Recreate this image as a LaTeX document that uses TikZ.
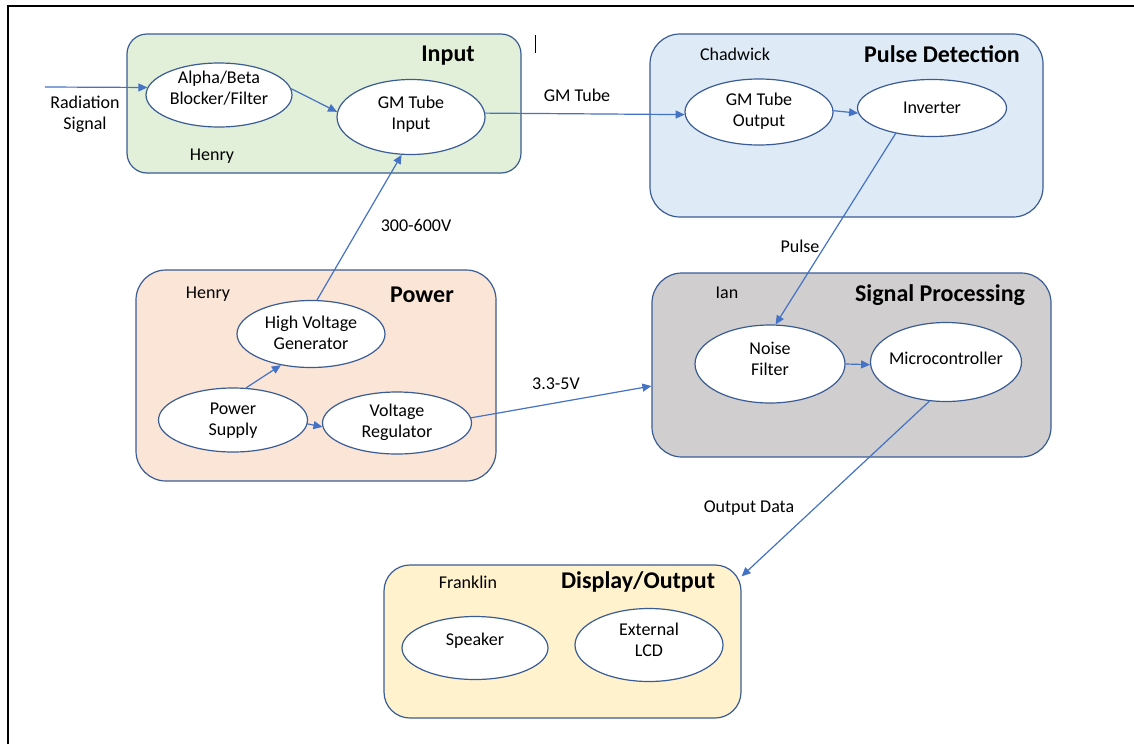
\documentclass[tikz,border=0pt]{standalone}
\usepackage{fontspec}
\setmainfont{Carlito}
\usetikzlibrary{shapes.geometric,arrows.meta}
\definecolor{edge}{HTML}{3A5C95}
\definecolor{arr}{HTML}{4472C4}
\definecolor{cgreen}{HTML}{E2F0D9}
\definecolor{cblue}{HTML}{DEEBF7}
\definecolor{cpeach}{HTML}{FBE5D6}
\definecolor{cgray}{HTML}{D0CECE}
\definecolor{cyellow}{HTML}{FFF2CC}
\newcommand\intext[2]{\raisebox{#1}{\smash{\makebox[0pt]{\begin{tabular}{@{}c@{}}#2\end{tabular}}}}}
\tikzset{
  panel/.style={draw=edge, line width=1.2pt, rectangle, inner sep=0pt},
  blob/.style={draw=edge, line width=1.2pt, ellipse, fill=white, inner sep=0pt, align=center,
    font=\fontsize{18}{21}\selectfont},
  title/.style={font=\fontsize{24}{28}\selectfont\bfseries, inner sep=0pt},
  lbl/.style={font=\fontsize{18}{21}\selectfont, inner sep=0pt, align=center},
  flow/.style={draw=arr, line width=1.2pt, -{Triangle[length=9pt,width=8pt]}},
}
\begin{document}
\begin{tikzpicture}[x=1pt,y=-1pt]
\useasboundingbox (0,0) rectangle (1134,744);
% frame
\coordinate (fa) at (8,744);
\coordinate (fb) at (8,6);
\coordinate (fc) at (1134,6);
\draw[line width=1.6pt] (fa) -- (fb) -- (fc);
\coordinate (ca) at (535,35);
\coordinate (cb) at (535,53);
\draw[line width=0.9pt] (ca) -- (cb);

% panels
\node[panel, fill=cgreen, rounded corners=20pt, minimum width=394pt, minimum height=139pt] (inbox) at (324,103.5) {};
\node[panel, fill=cblue, rounded corners=30pt, minimum width=393pt, minimum height=183pt] (pdbox) at (846.5,125.5) {};
\node[panel, fill=cpeach, rounded corners=30pt, minimum width=360pt, minimum height=211pt] (pwbox) at (316,375.5) {};
\node[panel, fill=cgray, rounded corners=30pt, minimum width=399pt, minimum height=184pt] (spbox) at (851.5,365) {};
\node[panel, fill=cyellow, rounded corners=26pt, minimum width=357pt, minimum height=153pt] (dobox) at (562.5,641.5) {};

% titles and names
\node[title] (tin) at (448,56) {Input};
\node[lbl] (hin) at (212,156) {Henry};
\node[title] (tpd) at (942,54) {Pulse Detection};
\node[lbl] (chad) at (735,54) {Chadwick};
\node[title] (tpw) at (422,295) {Power};
\node[lbl] (hpw) at (208,294) {Henry};
\node[title] (tsp) at (940,295) {Signal Processing};
\node[lbl] (ian) at (727,293) {Ian};
\node[title] (tdo) at (638,582) {Display/Output};
\node[lbl] (frank) at (468,582) {Franklin};

% ellipses
\node[blob, minimum width=146pt, minimum height=64pt] (alpha) at (219,95) {\intext{1.7pt}{Alpha/Beta\\Blocker/Filter}};
\node[blob, minimum width=148pt, minimum height=75pt] (gmin) at (411,117) {\intext{-3.8pt}{GM Tube\\Input}};
\node[blob, minimum width=148pt, minimum height=66pt] (gmout) at (759,112) {\intext{-8.8pt}{GM Tube\\Output}};
\node[blob, minimum width=149pt, minimum height=57pt] (inv) at (932,108) {\intext{-11.3pt}{Inverter}};
\node[blob, minimum width=148pt, minimum height=67pt] (hv) at (311,334) {\intext{-10.3pt}{High Voltage\\Generator}};
\node[blob, minimum width=149pt, minimum height=64pt] (ps) at (233,420) {\intext{-10.8pt}{Power\\Supply}};
\node[blob, minimum width=149pt, minimum height=62pt] (vr) at (397,423) {\intext{-7.8pt}{Voltage\\Regulator}};
\node[blob, minimum width=150pt, minimum height=78pt] (nf) at (770,364) {\intext{-2.8pt}{Noise\\Filter}};
\node[blob, minimum width=151pt, minimum height=79pt] (mc) at (946,362) {\intext{-5.3pt}{Microcontroller}};
\node[blob, minimum width=146pt, minimum height=63pt] (spk) at (475,648) {\intext{5.7pt}{Speaker}};
\node[blob, minimum width=148pt, minimum height=73pt] (lcd) at (649,645) {\intext{-1.8pt}{External\\LCD}};

% connector labels
\node[lbl] (lrad) at (85,114) {Radiation\\Signal};
\node[lbl] (lgm) at (577,95) {GM Tube};
\node[lbl] (lhv) at (416,225) {300-600V};
\node[lbl] (lpulse) at (800,246) {Pulse};
\node[lbl] (llow) at (556,384) {3.3-5V};
\node[lbl] (lout) at (749,508) {Output Data};

% connectors
\coordinate (rsrc) at (45,87);
\draw[flow] (rsrc) -- (alpha.174);
\draw[flow] (alpha.5) -- (gmin.176);
\draw[flow] (gmin.3) -- (gmout.182);
\draw[flow] (gmout.1) -- (inv.184);
\draw[flow] (hv.80) -- (gmin.256);
\draw[flow] (ps.68) -- (hv.226);
\draw[flow] (ps.-3) -- (vr.183);
\draw[flow] (vr.4) -- (spbox.186.6);
\draw[flow] (inv.215) -- (nf.82);
\draw[flow] (nf.0) -- (mc.182);
\draw[flow] (mc.247) -- (dobox.20.4);
\end{tikzpicture}
\end{document}
